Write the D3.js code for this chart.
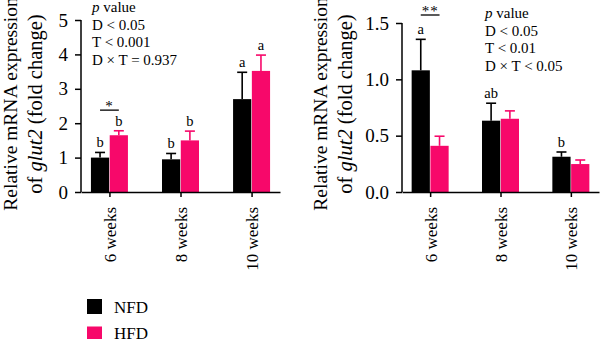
<!DOCTYPE html>
<html>
<head>
<meta charset="utf-8">
<script src="https://cdn.jsdelivr.net/npm/d3@7"></script>
<style>
  html, body { margin: 0; padding: 0; background: #fff; }
  svg { display: block; }
  svg text { font-family: "Liberation Serif", "DejaVu Serif", "Noto Serif", serif; }
</style>
</head>
<body>
<svg id="chart" width="600" height="339"></svg>
<script>
// ---------- data ----------
const categories = ["6 weeks", "8 weeks", "10 weeks"];
const groups = ["NFD", "HFD"];

// Panel A (left)
const leftNFD = [1.00, 0.95, 2.70];
const leftNFDsem = [0.15, 0.17, 0.78];
const leftHFD = [1.65, 1.50, 3.52];
const leftHFDsem = [0.13, 0.27, 0.46];
const leftNFDletters = ["b", "b", "a"];
const leftHFDletters = ["b", "b", "a"];
const leftTicks = [0, 1, 2, 3, 4, 5];
const leftStats = ["D < 0.05", "T < 0.001", "D \u00d7 T = 0.937"];

// Panel B (right)
const rightNFD = [1.08, 0.633, 0.313];
const rightNFDsem = [0.275, 0.155, 0.042];
const rightHFD = [0.41, 0.65, 0.248];
const rightHFDsem = [0.085, 0.07, 0.036];
const rightNFDletters = ["a", "ab", "b"];
const rightHFDletters = ["", "", ""];
const rightTicks = [0, 0.5, 1.0, 1.5];
const rightStats = ["D < 0.05", "T < 0.01", "D \u00d7 T < 0.05"];

const colors = { NFD: "#000000", HFD: "#f7086a" };

const svg = d3.select("#chart");

function panel(cfg) {
  const g = svg.append("g");
  const x = d3.scalePoint().domain(categories).range([cfg.x0, cfg.x1]).padding(0.4);
  const y = d3.scaleLinear().domain([0, cfg.ymax]).range([192, cfg.ytop]);
  const inner = d3.scaleBand().domain(groups).range([-18.5, 18.5]).paddingInner(0.03);

  const series = [
    { key: "NFD", vals: cfg.nfd, sem: cfg.nfdSem, letters: cfg.nfdLetters },
    { key: "HFD", vals: cfg.hfd, sem: cfg.hfdSem, letters: cfg.hfdLetters }
  ];
  series.forEach(s => {
    const data = categories.map((c, i) => ({ c, v: s.vals[i], e: s.sem[i], l: s.letters[i] }));
    const col = colors[s.key];
    const cx = d => x(d.c) + inner(s.key) + inner.bandwidth() / 2;
    g.selectAll(null).data(data).enter().append("line")
      .attr("x1", cx).attr("x2", cx)
      .attr("y1", d => y(d.v)).attr("y2", d => y(d.v + d.e))
      .attr("stroke", col).attr("stroke-width", 1.6);
    g.selectAll(null).data(data).enter().append("line")
      .attr("x1", d => cx(d) - 5).attr("x2", d => cx(d) + 5)
      .attr("y1", d => y(d.v + d.e)).attr("y2", d => y(d.v + d.e))
      .attr("stroke", col).attr("stroke-width", 1.6);
    g.selectAll(null).data(data).enter().append("rect")
      .attr("x", d => x(d.c) + inner(s.key))
      .attr("width", inner.bandwidth())
      .attr("y", d => y(d.v))
      .attr("height", d => y(0) - y(d.v))
      .attr("fill", col);
    g.selectAll(null).data(data).enter().append("text")
      .attr("x", cx).attr("y", d => y(d.v + d.e) - 5)
      .attr("text-anchor", "middle").attr("font-size", 14.5)
      .text(d => d.l);
  });

  // axes
  const yAxis = d3.axisLeft(y).tickValues(cfg.ticks).tickSize(6).tickPadding(7)
    .tickFormat(cfg.fmt);
  const ya = g.append("g").attr("transform", `translate(${cfg.x0},0)`).call(yAxis);
  ya.attr("font-family", null);
  ya.select(".domain").attr("d", `M0,${cfg.ytop}V192`);
  ya.selectAll("text").attr("font-size", 19);
  const xAxis = d3.axisBottom(x).tickSize(5).tickSizeOuter(0);
  const xa = g.append("g").attr("transform", "translate(0,192)").call(xAxis);
  xa.attr("font-family", null);
  xa.selectAll("text").attr("font-size", 17)
    .attr("transform", "rotate(-90)").attr("text-anchor", "end")
    .attr("x", -15).attr("y", 0).attr("dy", "0.35em");
  g.selectAll(".domain, .tick line").attr("stroke", "#000").attr("stroke-width", 1.5);

  // y label
  const lab = g.append("text").attr("text-anchor", "middle");
  lab.append("tspan").attr("x", 0).attr("y", 0).attr("font-size", 19.5).text("Relative mRNA expression");
  const t2 = lab.append("tspan").attr("x", 0).attr("y", 25).attr("font-size", 20.5);
  t2.append("tspan").text("of ");
  t2.append("tspan").attr("font-style", "italic").text("glut2");
  t2.append("tspan").text(" (fold change)");
  lab.attr("transform", `translate(${cfg.labX},104) rotate(-90)`);

  // stats text
  const st = g.append("text").attr("font-size", 15);
  const l0 = st.append("tspan").attr("x", cfg.statX).attr("y", cfg.statY);
  l0.append("tspan").attr("font-style", "italic").text("p");
  l0.append("tspan").text(" value");
  cfg.stats.forEach((s, i) => {
    st.append("tspan").attr("x", cfg.statX).attr("y", cfg.statY + 17.7 * (i + 1)).text(s);
  });

  // significance bracket on first category
  const c0 = categories[0];
  const bx1 = x(c0) + inner("NFD") + inner.bandwidth() / 2;
  const bx2 = x(c0) + inner("HFD") + inner.bandwidth() / 2;
  g.append("line").attr("x1", bx1).attr("x2", bx2)
    .attr("y1", y(cfg.sigY)).attr("y2", y(cfg.sigY))
    .attr("stroke", "#000").attr("stroke-width", 1.3);
  g.append("text").attr("x", (bx1 + bx2) / 2).attr("y", y(cfg.sigY) + 1)
    .attr("text-anchor", "middle").attr("font-size", 15).attr("letter-spacing", 1)
    .text(cfg.sig);
}

panel({
  x0: 81, x1: 280, ytop: 20, ymax: 5, ticks: leftTicks, fmt: d3.format("d"),
  nfd: leftNFD, nfdSem: leftNFDsem, hfd: leftHFD, hfdSem: leftHFDsem,
  nfdLetters: leftNFDletters, hfdLetters: leftHFDletters,
  labX: 17, statX: 92, statY: 12, stats: leftStats, sigY: 2.38, sig: "*"
});
panel({
  x0: 402, x1: 599, ytop: 23, ymax: 1.5, ticks: rightTicks, fmt: d3.format(".1f"),
  nfd: rightNFD, nfdSem: rightNFDsem, hfd: rightHFD, hfdSem: rightHFDsem,
  nfdLetters: rightNFDletters, hfdLetters: rightHFDletters,
  labX: 327, statX: 485, statY: 18, stats: rightStats, sigY: 1.571, sig: "**"
});

// legend
const legend = svg.append("g");
groups.forEach((k, i) => {
  legend.append("rect").attr("x", 87).attr("y", 299 + 27.5 * i).attr("width", 15).attr("height", 15)
    .attr("fill", colors[k]);
  legend.append("text").attr("x", 114).attr("y", 313 + 25.5 * i).attr("font-size", 17).text(k);
});
</script>
</body>
</html>
